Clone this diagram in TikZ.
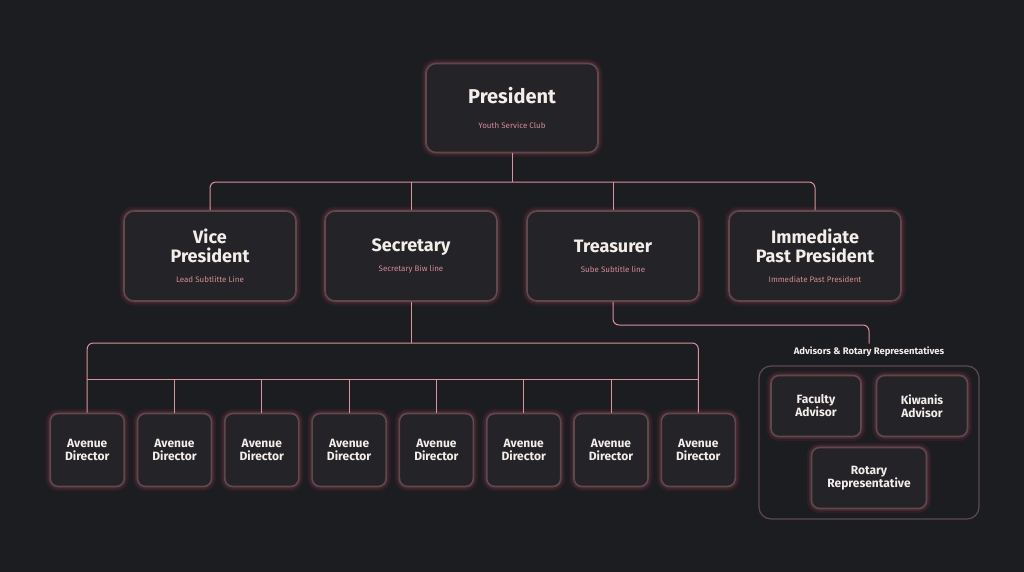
\documentclass[tikz,border=0pt]{standalone}
\usepackage{fontspec}
\setmainfont{Fira Sans}
\usetikzlibrary{calc}

\definecolor{bg}{HTML}{1C1D21}
\definecolor{cardfill}{HTML}{232328}
\definecolor{cardedge}{HTML}{5E4A4E}
\definecolor{glow}{HTML}{B8404F}
\definecolor{linkcol}{HTML}{E0909A}
\definecolor{subcol}{HTML}{D98A94}
\definecolor{titlecol}{HTML}{F4EEE8}

\newcommand\subline[1]{{\mdseries\fontsize{8}{9}\selectfont\color{subcol}#1}}

\tikzset{
  card/.style={draw=cardedge, line width=1.6pt, fill=cardfill, rounded corners=10pt,
    text=titlecol, align=center, inner sep=0pt,
    preaction={draw=glow, line width=9pt, opacity=0.10},
    preaction={draw=glow, line width=5pt, opacity=0.18}},
  officer/.style={card, minimum width=172pt, minimum height=90pt,
    font=\bfseries\fontsize{18}{19}\selectfont},
  small/.style={card, rounded corners=8pt, font=\bfseries\fontsize{12}{13}\selectfont},
  link/.style={draw=linkcol, line width=1pt, rounded corners=6pt},
}

\begin{document}
\begin{tikzpicture}[x=1pt,y=-1pt]
  % Background and page size
  \fill[bg] (0,0) rectangle (1024,572);
  \useasboundingbox (0,0) rectangle (1024,572);

  % Top of the tree
  \node[officer, minimum height=89pt, font=\bfseries\fontsize{20}{22}\selectfont] (pres) at (512,108)
    {President\\[3pt]\subline{Youth Service Club}};

  % Second row of officers
  \def\rowy{256}
  \node[officer] (vp) at (210,\rowy) {Vice\\President\\[1pt]\subline{Lead Subtlitte Line}};
  \node[officer] (sec) at (411,\rowy) {Secretary\\[1pt]\subline{Secretary Biw line}};
  \node[officer] (tre) at (613,\rowy) {Treasurer\\[1pt]\subline{Sube Subtitle line}};
  \node[officer] (ipp) at (815,\rowy) {Immediate\\Past President\\[1pt]\subline{Immediate Past President}};

  % Bus from president to officers
  \coordinate (topbus) at (512,182);
  \draw[link] (pres.south) -- (topbus);
  \draw[link] (vp.north) |- (topbus) -| (ipp.north);
  \draw[link] (sec.north) -- (sec.north |- topbus);
  \draw[link] (tre.north) -- (tre.north |- topbus);

  % Avenue directors
  \foreach \i in {1,...,8}{
    \pgfmathsetmacro{\dx}{87.2+(\i-1)*87.3}
    \node[small, minimum width=74pt, minimum height=73pt] (ad\i) at (\dx,450) {Avenue\\Director};
  }

  % Secretary to directors
  \coordinate (secbus) at (411,343);
  \coordinate (adbus) at (411,379);
  \draw[link] (sec.south) -- (secbus);
  \draw[link] (ad1.north) |- (secbus) -| (ad8.north);
  \draw[link, rounded corners=0pt] (ad1.north |- adbus) -- (ad8.north |- adbus);
  \foreach \i in {2,...,7}{
    \draw[link] (ad\i.north |- adbus) -- (ad\i.north);
  }

  % Advisors group
  \node[font=\bfseries\fontsize{9.5}{10}\selectfont, text=titlecol] (advlbl) at (869,352)
    {Advisors \& Rotary Representatives};
  \node[draw=cardedge, line width=1.2pt, rounded corners=12pt,
    minimum width=220pt, minimum height=153pt] (advgrp) at (869,442.5) {};
  \node[small, minimum width=90pt, minimum height=61pt] (fac) at (816,406) {Faculty\\Advisor};
  \node[small, minimum width=91pt, minimum height=61pt] (kiw) at (922,406) {Kiwanis\\Advisor};
  \node[small, minimum width=115pt, minimum height=61pt] (rot) at (869,478) {Rotary\\Representative};

  % Treasurer to advisors
  \coordinate (trebus) at (740,325);
  \draw[link] (tre.south) |- (trebus) -| (advlbl.north);
\end{tikzpicture}
\end{document}
